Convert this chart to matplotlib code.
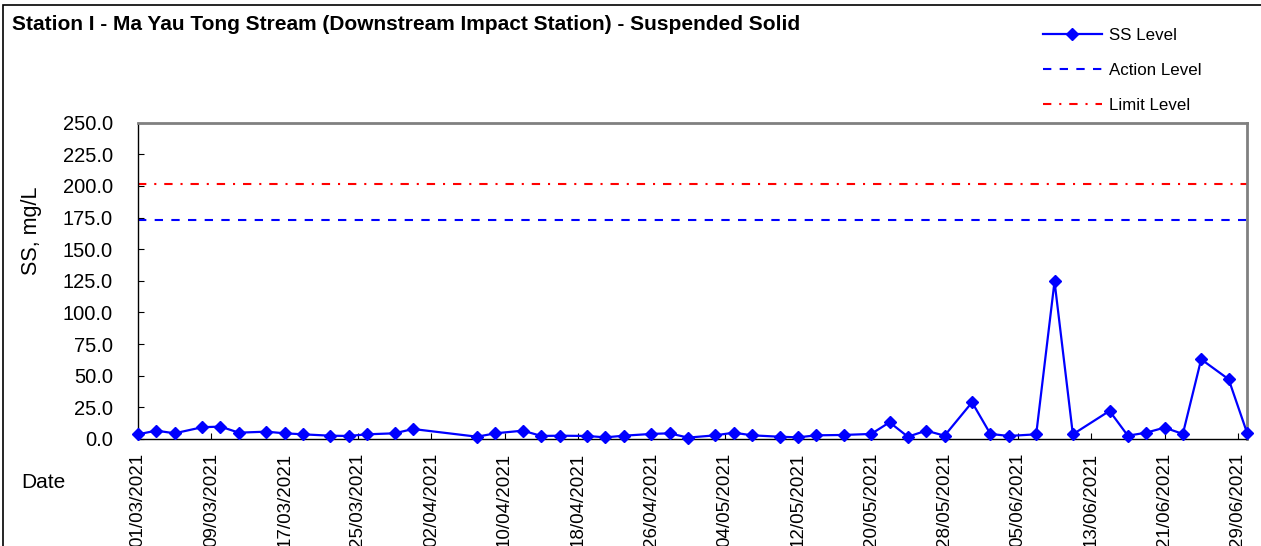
import matplotlib
matplotlib.use("Agg")
import matplotlib.pyplot as plt
import matplotlib.dates as mdates
from matplotlib.patches import Rectangle
import pandas as pd

# sampling dates and suspended solid readings (mg/L)
dates = [
    "2021-03-01", "2021-03-03", "2021-03-05", "2021-03-08", "2021-03-10", "2021-03-12",
    "2021-03-15", "2021-03-17", "2021-03-19", "2021-03-22", "2021-03-24", "2021-03-26",
    "2021-03-29", "2021-03-31", "2021-04-07", "2021-04-09", "2021-04-12", "2021-04-14",
    "2021-04-16", "2021-04-19", "2021-04-21", "2021-04-23", "2021-04-26", "2021-04-28",
    "2021-04-30", "2021-05-03", "2021-05-05", "2021-05-07", "2021-05-10", "2021-05-12",
    "2021-05-14", "2021-05-17", "2021-05-20", "2021-05-22", "2021-05-24", "2021-05-26",
    "2021-05-28", "2021-05-31", "2021-06-02", "2021-06-04", "2021-06-07", "2021-06-09",
    "2021-06-11", "2021-06-15", "2021-06-17", "2021-06-19", "2021-06-21", "2021-06-23",
    "2021-06-25", "2021-06-28", "2021-06-30",
]
ss_level = [
    3.7, 6.6, 4.5, 9.3, 9.8, 5.0,
    5.8, 4.5, 3.7, 2.6, 2.4, 3.7,
    4.5, 7.9, 1.8, 4.5, 6.6, 2.4,
    2.6, 2.4, 1.3, 2.6, 4.0, 4.5,
    1.1, 2.9, 5.0, 2.9, 1.8, 1.3,
    2.9, 3.2, 4.0, 13.2, 1.8, 6.6,
    2.6, 29.0, 4.0, 2.4, 3.7, 124.5,
    3.7, 22.2, 2.6, 5.0, 9.0, 4.0,
    63.0, 47.2, 5.0,
]
action_level = 173.1
limit_level = 201.6

y_ticks = [0, 25, 50, 75, 100, 125, 150, 175, 200, 225, 250]

dates = pd.to_datetime(dates)
start, end = pd.Timestamp("2021-03-01"), pd.Timestamp("2021-06-30")
x_ticks = pd.date_range(start, end, freq="8D")

plt.rcParams["font.family"] = ["Liberation Sans", "DejaVu Sans"]

fig = plt.figure(figsize=(12.61, 5.46), dpi=100)
ax = fig.add_axes([138 / 1261, 1 - 439 / 546, (1247 - 138) / 1261, (439 - 122.7) / 546])

ax.plot(dates, ss_level, color="#0000ff", lw=1.6, marker="D", ms=6.2,
        label="SS Level", zorder=3, clip_on=False)
ax.plot([start, end], [action_level] * 2, color="#0000ff", lw=1.5,
        dashes=(4, 4), label="Action Level")
ax.plot([start, end], [limit_level] * 2, color="#ff0000", lw=1.5,
        dashes=(4, 3.8, 1, 3.8), label="Limit Level")

ax.set_xlim(start, end)
ax.set_ylim(0, 250)
ax.set_yticks(y_ticks)
ax.set_yticklabels([f"{v:.1f}" for v in y_ticks])
ax.set_xticks(x_ticks)
ax.xaxis.set_major_formatter(mdates.DateFormatter("%d/%m/%Y"))
ax.tick_params(axis="x", direction="in", length=4, pad=10, labelsize=13.5, labelrotation=90)
ax.tick_params(axis="y", direction="in", length=4, pad=18, labelsize=14.5)

for side in ["top", "right"]:
    ax.spines[side].set_color("#808080")
    ax.spines[side].set_linewidth(2)
for side in ["left", "bottom"]:
    ax.spines[side].set_color("black")
    ax.spines[side].set_linewidth(1)

fig.text(12 / 1261, 1 - 24 / 546, "Station I - Ma Yau Tong Stream (Downstream Impact Station) - Suspended Solid",
         fontsize=15, fontweight="bold", va="center", ha="left")
fig.text(31 / 1261, 1 - 231 / 546, "SS, mg/L", rotation=90, fontsize=15.5, va="center", ha="center")
fig.text(21 / 1261, 1 - 482 / 546, "Date", fontsize=15, va="center", ha="left")

fig.legend(loc="upper left", bbox_to_anchor=(1036 / 1261, 1 - 21 / 546), frameon=False,
           fontsize=12.2, numpoints=1, handlelength=3.5, labelspacing=1.18, handletextpad=0.4,
           borderaxespad=0)

fig.patches.append(Rectangle((3 / 1261, -0.2), 1.5, 1 - 5 / 546 + 0.2, transform=fig.transFigure,
                             fill=False, edgecolor="black", lw=1.2))

fig.savefig("out.png", dpi=100)
